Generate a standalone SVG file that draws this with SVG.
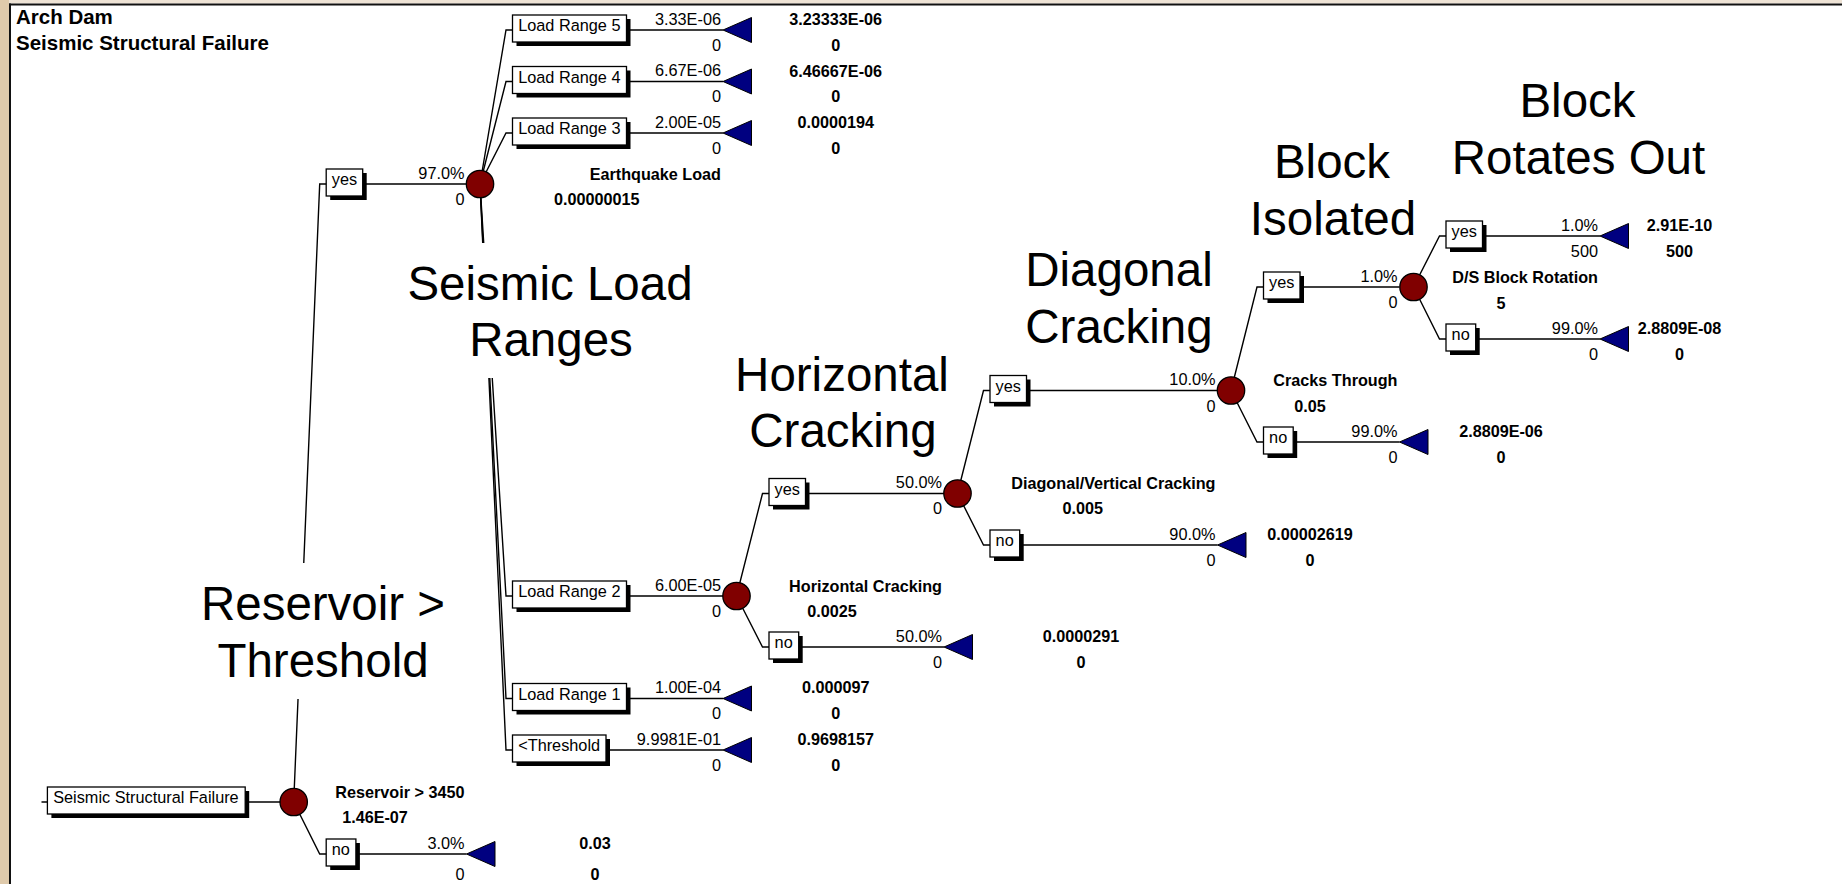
<svg xmlns="http://www.w3.org/2000/svg" width="1842" height="884" viewBox="0 0 1842 884">
<style>
.ln{stroke:#000;stroke-width:1.4;fill:none}
.box{fill:#fff;stroke:#000;stroke-width:1.3}
.sh{fill:#000}
.ch{fill:#800000;stroke:#000;stroke-width:1.3}
.tm{fill:#000080;stroke:#000;stroke-width:1}
text{font-family:"Liberation Sans",Arial,sans-serif;font-size:16.3px;fill:#000}
.b{font-weight:bold;font-size:16.2px}
.e{text-anchor:end}
.m{text-anchor:middle}
.big{font-size:47.5px;text-anchor:middle}
.ttl{font-weight:bold;font-size:20.5px}
</style>
<rect x="0" y="0" width="1842" height="884" fill="#fff"/>
<rect x="0" y="0" width="1842" height="3.5" fill="#EEE3D5"/>
<rect x="0" y="0" width="9" height="884" fill="#DFCAAB"/>
<rect x="9" y="3.5" width="1833" height="2" fill="#111"/>
<rect x="9" y="3.5" width="2" height="880.5" fill="#111"/>

<g id="title">
<text class="ttl" x="16" y="24">Arch Dam</text>
<text class="ttl" x="16" y="50">Seismic Structural Failure</text>
</g>

<g id="connectors">
<path class="ln" d="M41.5,802 H293.7"/>
<path class="ln" d="M293.7,802 L319.7,184 H466.5"/>
<path class="ln" d="M293.7,802 L319.7,854 H466.5"/>
<path class="ln" d="M480,184 L506,30 H723"/>
<path class="ln" d="M480,184 L506,81.5 H723"/>
<path class="ln" d="M480,184 L506,133 H723"/>
<path class="ln" d="M480,184 L506,596 H723"/>
<path class="ln" d="M480,184 L506,698.5 H723"/>
<path class="ln" d="M480,184 L506,750 H723"/>
<path class="ln" d="M736.5,596 L762.5,493.5 H944"/>
<path class="ln" d="M736.5,596 L762.5,647 H944"/>
<path class="ln" d="M957.5,493.5 L983.5,390.5 H1217.5"/>
<path class="ln" d="M957.5,493.5 L983.5,545 H1217.5"/>
<path class="ln" d="M1231,390.5 L1257,287 H1399.5"/>
<path class="ln" d="M1231,390.5 L1257,442 H1399.5"/>
<path class="ln" d="M1413.5,287 L1439.5,236 H1600"/>
<path class="ln" d="M1413.5,287 L1439.5,339 H1600"/>
</g>

<g id="stage-labels">
<rect x="405" y="243" width="292" height="135" fill="#fff"/>
<text class="big" x="550" y="300">Seismic Load</text>
<text class="big" x="551" y="356">Ranges</text>
<rect x="198" y="563" width="251" height="136" fill="#fff"/>
<text class="big" x="323" y="620">Reservoir &gt;</text>
<text class="big" x="323" y="677">Threshold</text>
<text class="big" x="842" y="391">Horizontal</text>
<text class="big" x="843" y="447">Cracking</text>
<text class="big" x="1119" y="286">Diagonal</text>
<text class="big" x="1119" y="343">Cracking</text>
<text class="big" x="1332" y="178">Block</text>
<text class="big" x="1333" y="235">Isolated</text>
<text class="big" x="1577.5" y="117">Block</text>
<text class="big" x="1578.5" y="174">Rotates Out</text>
</g>

<g id="root">
<rect class="sh" x="51.4" y="791" width="197.8" height="27"/>
<rect class="box" x="47.4" y="787" width="197.8" height="27"/>
<text x="53.2" y="803">Seismic Structural Failure</text>
<circle class="ch" cx="293.7" cy="802" r="13.7"/>
<text class="b e" x="464.5" y="798">Reservoir &gt; 3450</text>
<text class="b m" x="375" y="823">1.46E-07</text>
</g>

<g id="res-yes">
<rect class="sh" x="330.2" y="173" width="36.5" height="27"/>
<rect class="box" x="326.2" y="169" width="36.5" height="27"/>
<text x="331.8" y="185">yes</text>
<text class="e" x="464.5" y="178.5">97.0%</text>
<text class="e" x="464.5" y="204.5">0</text>
</g>

<g id="res-no">
<rect class="sh" x="330.2" y="843" width="29.7" height="27"/>
<rect class="box" x="326.2" y="839" width="29.7" height="27"/>
<text x="331.8" y="855">no</text>
<text class="e" x="464.5" y="849">3.0%</text>
<text class="e" x="464.5" y="880">0</text>
<polygon class="tm" points="466.5,854 495,841.5 495,866.5"/>
<text class="b m" x="595" y="849">0.03</text>
<text class="b m" x="595" y="880">0</text>
</g>

<g id="earthquake-load">
<circle class="ch" cx="480" cy="184" r="13.7"/>
<text class="b e" x="721" y="180">Earthquake Load</text>
<text class="b m" x="596.7" y="205">0.00000015</text>
</g>

<g id="load-range-5">
<rect class="sh" x="516.5" y="19" width="114" height="27"/>
<rect class="box" x="512.5" y="15" width="114" height="27"/>
<text x="518.2" y="31">Load Range 5</text>
<text class="e" x="721" y="24.5">3.33E-06</text>
<text class="e" x="721" y="50.5">0</text>
<polygon class="tm" points="723,30 751.5,17.5 751.5,42.5"/>
<text class="b m" x="835.7" y="25">3.23333E-06</text>
<text class="b m" x="835.7" y="50.5">0</text>
</g>

<g id="load-range-4">
<rect class="sh" x="516.5" y="70.5" width="114" height="27"/>
<rect class="box" x="512.5" y="66.5" width="114" height="27"/>
<text x="518.2" y="82.5">Load Range 4</text>
<text class="e" x="721" y="76">6.67E-06</text>
<text class="e" x="721" y="102">0</text>
<polygon class="tm" points="723,81.5 751.5,69 751.5,94"/>
<text class="b m" x="835.7" y="76.5">6.46667E-06</text>
<text class="b m" x="835.7" y="102">0</text>
</g>

<g id="load-range-3">
<rect class="sh" x="516.5" y="122" width="114" height="27"/>
<rect class="box" x="512.5" y="118" width="114" height="27"/>
<text x="518.2" y="134">Load Range 3</text>
<text class="e" x="721" y="127.5">2.00E-05</text>
<text class="e" x="721" y="153.5">0</text>
<polygon class="tm" points="723,133 751.5,120.5 751.5,145.5"/>
<text class="b m" x="835.7" y="128">0.0000194</text>
<text class="b m" x="835.7" y="153.5">0</text>
</g>

<g id="load-range-2">
<rect class="sh" x="516.5" y="585" width="114" height="27"/>
<rect class="box" x="512.5" y="581" width="114" height="27"/>
<text x="518.2" y="597">Load Range 2</text>
<text class="e" x="721" y="590.5">6.00E-05</text>
<text class="e" x="721" y="616.5">0</text>
</g>

<g id="horizontal-cracking">
<circle class="ch" cx="736.5" cy="596" r="13.7"/>
<text class="b e" x="942" y="591.5">Horizontal Cracking</text>
<text class="b m" x="832" y="617">0.0025</text>
</g>

<g id="load-range-1">
<rect class="sh" x="516.5" y="687.5" width="114" height="27"/>
<rect class="box" x="512.5" y="683.5" width="114" height="27"/>
<text x="518.2" y="699.5">Load Range 1</text>
<text class="e" x="721" y="693">1.00E-04</text>
<text class="e" x="721" y="719">0</text>
<polygon class="tm" points="723,698.5 751.5,686 751.5,711"/>
<text class="b m" x="835.7" y="693">0.000097</text>
<text class="b m" x="835.7" y="719">0</text>
</g>

<g id="below-threshold">
<rect class="sh" x="516.5" y="739" width="93.5" height="27"/>
<rect class="box" x="512.5" y="735" width="93.5" height="27"/>
<text x="518.2" y="751">&lt;Threshold</text>
<text class="e" x="721" y="744.5">9.9981E-01</text>
<text class="e" x="721" y="770.5">0</text>
<polygon class="tm" points="723,750 751.5,737.5 751.5,762.5"/>
<text class="b m" x="835.7" y="744.5">0.9698157</text>
<text class="b m" x="835.7" y="770.5">0</text>
</g>

<g id="hc-yes">
<rect class="sh" x="773" y="482.5" width="36.5" height="27"/>
<rect class="box" x="769" y="478.5" width="36.5" height="27"/>
<text x="774.6" y="494.5">yes</text>
<text class="e" x="942" y="488">50.0%</text>
<text class="e" x="942" y="514">0</text>
</g>

<g id="hc-no">
<rect class="sh" x="773" y="636" width="29.7" height="27"/>
<rect class="box" x="769" y="632" width="29.7" height="27"/>
<text x="774.6" y="648">no</text>
<text class="e" x="942" y="641.5">50.0%</text>
<text class="e" x="942" y="667.5">0</text>
<polygon class="tm" points="944,647 972.5,634.5 972.5,659.5"/>
<text class="b m" x="1081" y="642">0.0000291</text>
<text class="b m" x="1081" y="667.5">0</text>
</g>

<g id="diagonal-vertical-cracking">
<circle class="ch" cx="957.5" cy="493.5" r="13.7"/>
<text class="b e" x="1215.5" y="488.5">Diagonal/Vertical Cracking</text>
<text class="b m" x="1082.7" y="514">0.005</text>
</g>

<g id="dvc-yes">
<rect class="sh" x="994" y="379.5" width="36.5" height="27"/>
<rect class="box" x="990" y="375.5" width="36.5" height="27"/>
<text x="995.6" y="391.5">yes</text>
<text class="e" x="1215.5" y="385">10.0%</text>
<text class="e" x="1215.5" y="411.5">0</text>
</g>

<g id="dvc-no">
<rect class="sh" x="994" y="534" width="29.7" height="27"/>
<rect class="box" x="990" y="530" width="29.7" height="27"/>
<text x="995.6" y="546">no</text>
<text class="e" x="1215.5" y="539.5">90.0%</text>
<text class="e" x="1215.5" y="565.5">0</text>
<polygon class="tm" points="1217.5,545 1246,532.5 1246,557.5"/>
<text class="b m" x="1310" y="539.5">0.00002619</text>
<text class="b m" x="1310" y="565.5">0</text>
</g>

<g id="cracks-through">
<circle class="ch" cx="1231" cy="390.5" r="13.7"/>
<text class="b e" x="1397.5" y="385.5">Cracks Through</text>
<text class="b m" x="1310" y="411.5">0.05</text>
</g>

<g id="ct-yes">
<rect class="sh" x="1267.5" y="276" width="36.5" height="27"/>
<rect class="box" x="1263.5" y="272" width="36.5" height="27"/>
<text x="1269.1" y="288">yes</text>
<text class="e" x="1397.5" y="281.5">1.0%</text>
<text class="e" x="1397.5" y="308">0</text>
</g>

<g id="ct-no">
<rect class="sh" x="1267.5" y="431" width="29.7" height="27"/>
<rect class="box" x="1263.5" y="427" width="29.7" height="27"/>
<text x="1269.1" y="443">no</text>
<text class="e" x="1397.5" y="436.5">99.0%</text>
<text class="e" x="1397.5" y="462.5">0</text>
<polygon class="tm" points="1399.5,442 1428,429.5 1428,454.5"/>
<text class="b m" x="1501" y="436.5">2.8809E-06</text>
<text class="b m" x="1501" y="462.5">0</text>
</g>

<g id="ds-block-rotation">
<circle class="ch" cx="1413.5" cy="287" r="13.7"/>
<text class="b e" x="1598" y="283">D/S Block Rotation</text>
<text class="b m" x="1501" y="308.5">5</text>
</g>

<g id="bi-yes">
<rect class="sh" x="1450" y="225" width="36.5" height="27"/>
<rect class="box" x="1446" y="221" width="36.5" height="27"/>
<text x="1451.6" y="237">yes</text>
<text class="e" x="1598" y="230.5">1.0%</text>
<text class="e" x="1598" y="256.5">500</text>
<polygon class="tm" points="1600,236 1628.5,223.5 1628.5,248.5"/>
<text class="b m" x="1679.5" y="230.5">2.91E-10</text>
<text class="b m" x="1679.5" y="256.5">500</text>
</g>

<g id="bi-no">
<rect class="sh" x="1450" y="328" width="29.7" height="27"/>
<rect class="box" x="1446" y="324" width="29.7" height="27"/>
<text x="1451.6" y="340">no</text>
<text class="e" x="1598" y="333.5">99.0%</text>
<text class="e" x="1598" y="359.5">0</text>
<polygon class="tm" points="1600,339 1628.5,326.5 1628.5,351.5"/>
<text class="b m" x="1679.5" y="333.5">2.8809E-08</text>
<text class="b m" x="1679.5" y="359.5">0</text>
</g>
</svg>
